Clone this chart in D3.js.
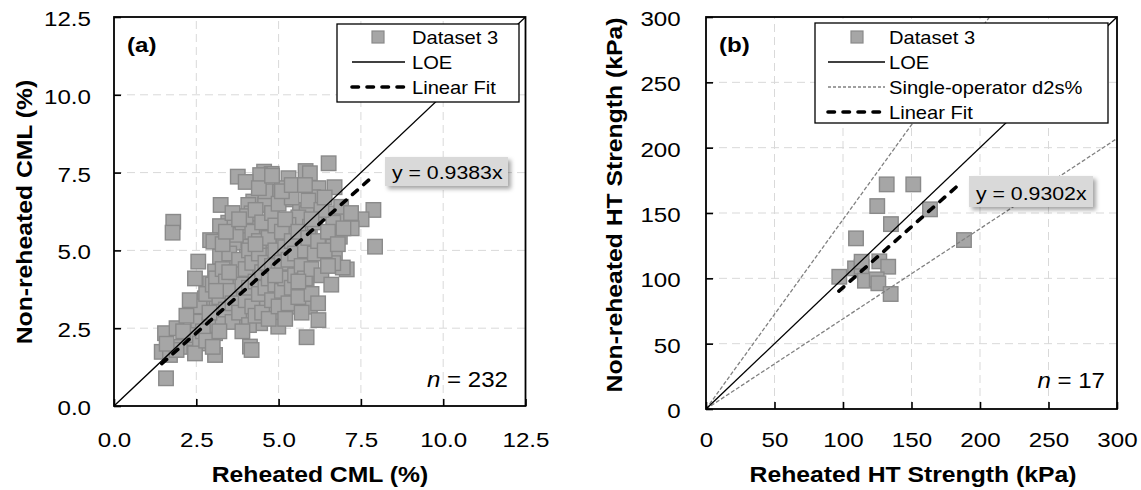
<!DOCTYPE html>
<html><head><meta charset="utf-8">
<script src="https://cdn.jsdelivr.net/npm/d3@7"></script>
<style>body{margin:0;background:#fff} svg{display:block;font-family:"Liberation Sans",Arial,sans-serif}</style>
</head><body><svg id="c" width="1141" height="490"></svg>
<script>
// ---------- Panel (a) data: CML (%) ----------
const cmlReheated = [
6.52,3.76,4.56,4.79,4.44,5.30,5.82,5.95,6.70,4.91,5.09,6.21,6.05,5.22,4.23,4.59,4.08,3.24,7.88,5.65,
5.85,4.18,4.79,5.60,6.66,7.07,7.52,1.80,1.78,3.47,3.22,4.08,4.64,5.30,5.95,6.66,7.22,2.92,3.02,3.68,
4.08,4.13,4.65,4.70,5.15,5.35,5.74,6.19,6.66,6.86,7.93,2.56,3.22,4.04,4.64,5.09,5.95,6.66,6.97,6.71,
7.07,6.95,6.66,2.46,3.07,3.62,4.03,4.74,5.25,2.92,3.12,3.73,4.18,4.54,4.84,5.30,5.30,5.65,5.85,2.76,
3.12,3.47,3.83,3.93,4.33,4.64,4.99,5.45,5.55,5.95,6.21,2.41,2.56,3.07,3.07,3.52,4.03,4.44,4.94,4.99,
5.85,1.55,1.90,2.21,2.41,2.61,1.45,1.70,2.46,3.07,4.13,4.18,1.58,
2.6,2.8,2.9,3.0,3.1,3.2,3.3,3.3,3.4,3.4,
3.5,3.5,3.6,3.6,3.7,3.7,3.8,3.8,3.9,3.9,
4.0,4.0,4.0,4.1,4.1,4.1,4.2,4.2,4.2,4.3,
4.3,4.3,4.4,4.4,4.4,4.5,4.5,4.5,4.6,4.6,
4.6,4.7,4.7,4.7,4.8,4.8,4.8,4.9,4.9,4.9,
5.0,5.0,5.0,5.1,5.1,5.1,5.2,5.2,5.2,5.2,
5.3,5.3,5.4,5.4,5.4,5.5,5.5,5.6,5.6,5.7,
5.7,5.8,5.8,5.9,5.9,6.0,6.0,6.1,6.1,6.2,
6.2,6.3,6.3,6.4,6.5,6.5,6.6,6.8,6.9,7.2,
2.2,2.3,2.0,2.1,1.9,1.6,2.7,2.8,2.9,3.0,
3.2,3.3,3.4,3.6,3.8,3.9,4.0,4.4,4.8,5.1,
5.4,5.8,6.0,6.4,3.5,4.3,4.9,5.6,3.1
];
const cmlNonReheated = [
7.80,7.37,7.53,7.46,7.42,7.32,7.55,7.48,7.03,6.89,7.00,7.00,6.71,6.64,6.57,6.46,6.46,6.46,6.30,6.30,
6.19,6.19,6.03,6.06,6.19,6.03,6.00,5.92,5.57,5.89,5.78,5.71,5.71,5.82,5.76,5.89,5.71,5.33,5.28,5.25,
5.33,5.12,5.55,5.17,5.33,5.55,5.23,5.12,5.12,5.44,5.12,4.64,4.80,4.80,4.80,4.80,4.82,4.82,5.71,4.80,
4.39,4.45,4.59,4.10,4.32,4.59,4.69,4.85,4.91,3.94,3.78,3.99,4.21,4.05,4.16,4.32,3.94,4.37,3.94,3.46,
3.30,3.35,3.62,3.08,3.51,3.25,3.51,3.51,3.19,3.19,2.76,2.98,2.71,2.92,2.34,2.92,2.82,2.66,2.98,2.55,
2.21,2.34,2.50,2.18,2.28,2.01,1.74,1.64,1.69,1.64,1.91,1.80,0.89,
3.2,3.6,2.6,3.9,4.1,3.5,2.8,4.4,3.1,4.0,
3.7,4.9,2.7,3.3,4.3,5.5,3.0,4.7,3.9,5.9,
3.4,4.4,6.1,2.6,3.8,5.0,4.6,3.2,5.6,2.9,
4.0,6.3,3.6,4.9,5.3,3.0,4.3,5.9,3.8,4.6,
6.9,2.8,4.1,5.4,3.4,4.5,6.2,3.9,5.0,5.8,
3.2,4.3,6.5,3.7,4.6,5.6,2.8,4.1,5.1,6.0,
3.3,4.7,3.8,5.3,6.7,4.2,4.9,3.5,5.6,4.5,
3.0,5.0,4.1,5.4,6.6,3.6,4.4,5.9,4.9,3.3,
5.3,4.2,6.3,5.0,4.5,5.6,3.9,5.2,6.4,6.2,
2.9,3.4,1.9,2.4,1.8,2.0,2.4,2.1,3.0,1.9,
2.4,5.2,5.6,6.2,6.0,2.4,7.2,7.0,7.4,6.9,
7.1,7.1,6.0,6.7,4.3,5.2,4.2,4.0,3.7
];
const cmlTicks = [0, 2.5, 5, 7.5, 10, 12.5];
const cmlFitSlope = 0.9383;
const cmlFitRange = [1.45, 7.9];
const cmlN = 232;

// ---------- Panel (b) data: HT strength (kPa) ----------
const htReheated    = [131.9,151.3,125.0,163.5,135.0,109.5,188.3,97.3,108.8,113.6,126.5,133.0,116.0,124.6,125.8,134.8,113.6];
const htNonReheated = [171.9,171.9,155.3,152.8,141.5,130.6,129.3,101.2,107.6,108.9,113.0,108.9,98.2,99.2,96.2,88.0,112.7];
const htTicks = [0, 50, 100, 150, 200, 250, 300];
const htFitSlope = 0.9302;
const htFitRange = [97, 186];
const d2sSlopes = [1.45, 0.69];
const htN = 17;

const svg = d3.select('#c');
const defs = svg.append('defs');
const f = defs.append('filter').attr('id','sh').attr('x','-20%').attr('y','-30%').attr('width','150%').attr('height','180%');
f.append('feDropShadow').attr('dx',3).attr('dy',3).attr('stdDeviation',2).attr('flood-color','#000').attr('flood-opacity',0.35);

function txt(g, x, y, s, o = {}) {
  const t = g.append('text')
    .attr('transform', `translate(${x},${y}) rotate(${o.rotate||0}) scale(${o.sx||1.15},1)`)
    .attr('text-anchor', o.anchor || 'start')
    .style('font-size', (o.size || 21) + 'px')
    .style('font-weight', o.weight || 'normal')
    .attr('fill', '#000');
  if (s !== null) t.text(s);
  return t;
}

const MK = '#a6a6a6', MKS = '#8a8a8a';

function panel(cfg) {
  const g = svg.append('g');
  const x = d3.scaleLinear().domain([0, cfg.max]).range(cfg.xr);
  const y = d3.scaleLinear().domain([0, cfg.max]).range(cfg.yr);
  const clipId = 'clip' + cfg.id;
  defs.append('clipPath').attr('id', clipId).append('rect')
    .attr('x', cfg.xr[0]).attr('y', cfg.yr[1]).attr('width', cfg.xr[1]-cfg.xr[0]).attr('height', cfg.yr[0]-cfg.yr[1]);

  // grid
  const grid = g.append('g').attr('stroke', '#d9d9d9').attr('stroke-width', 1).attr('stroke-dasharray', '8,5');
  cfg.ticks.slice(1, -1).forEach(t => {
    grid.append('line').attr('x1', x(t)).attr('x2', x(t)).attr('y1', cfg.yr[0]).attr('y2', cfg.yr[1]);
    grid.append('line').attr('y1', y(t)).attr('y2', y(t)).attr('x1', cfg.xr[0]).attr('x2', cfg.xr[1]);
  });

  // points
  const pts = g.append('g');
  cfg.xs.forEach((v, i) => {
    pts.append('rect').attr('x', x(v) - 7.25).attr('y', y(cfg.ys[i]) - 7.25)
      .attr('width', 14.5).attr('height', 14.5).attr('fill', MK).attr('stroke', MKS).attr('stroke-width', 1.4);
  });

  const lines = g.append('g').attr('clip-path', `url(#${clipId})`);
  // d2s lines
  (cfg.d2s || []).forEach(s => {
    const xe = Math.min(cfg.max, cfg.max / s);
    lines.append('line').attr('x1', x(0)).attr('y1', y(0)).attr('x2', x(xe)).attr('y2', y(xe * s))
      .attr('stroke', '#808080').attr('stroke-width', 1.3).attr('stroke-dasharray', '4,2');
  });
  // LOE
  lines.append('line').attr('x1', x(0)).attr('y1', y(0)).attr('x2', x(cfg.max)).attr('y2', y(cfg.max))
    .attr('stroke', '#000').attr('stroke-width', 1.3);
  // fit
  lines.append('line').attr('x1', x(cfg.fitRange[0])).attr('y1', y(cfg.fitRange[0] * cfg.slope))
    .attr('x2', x(cfg.fitRange[1])).attr('y2', y(cfg.fitRange[1] * cfg.slope))
    .attr('stroke', '#000').attr('stroke-width', 3.6).attr('stroke-dasharray', '6.5,8.5').attr('stroke-linecap', 'round');

  // axes
  const fmt = cfg.fmt;
  const ax = g.append('g').attr('transform', `translate(0,${cfg.yr[0]})`)
    .call(d3.axisBottom(x).tickValues(cfg.ticks).tickFormat(fmt).tickSizeInner(-7).tickSizeOuter(0).tickPadding(cfg.xpad));
  const ay = g.append('g').attr('transform', `translate(${cfg.xr[0]},0)`)
    .call(d3.axisLeft(y).tickValues(cfg.ticks).tickFormat(fmt).tickSizeInner(-7).tickSizeOuter(0).tickPadding(cfg.ypad));
  [ax, ay].forEach(a => {
    a.select('.domain').remove();
    a.selectAll('line').attr('stroke', '#000').attr('stroke-width', 1.6);
    a.selectAll('text').style('font-size', '21px').style('font-family', '"Liberation Sans",Arial,sans-serif')
      .attr('fill', '#000').attr('transform', 'scale(1.15,1)');
  });
  ay.selectAll('text').attr('dy', '0.4em');

  // frame
  g.append('rect').attr('x', cfg.xr[0]).attr('y', cfg.yr[1]).attr('width', cfg.xr[1]-cfg.xr[0]).attr('height', cfg.yr[0]-cfg.yr[1])
    .attr('fill', 'none').attr('stroke', '#000').attr('stroke-width', 1.8);

  // panel letter
  txt(g, cfg.xr[0] + 13, 52, cfg.letter, {size: 21, weight: 'bold'});

  // axis titles
  txt(g, cfg.xTitlePos[0], cfg.xTitlePos[1], cfg.xTitle, {size: 21.5, weight: 'bold', anchor: 'middle'});
  txt(g, cfg.yTitlePos[0], cfg.yTitlePos[1], cfg.yTitle, {size: 21.5, weight: 'bold', anchor: 'middle', rotate: -90});

  // label box
  const lb = cfg.lbox;
  g.append('rect').attr('x', lb[0]).attr('y', lb[1]).attr('width', lb[2]).attr('height', lb[3])
    .attr('fill', '#d9d9d9').attr('filter', 'url(#sh)');
  txt(g, lb[0] + 7, lb[1] + lb[3] - 7, `y = ${cfg.slope}x`, {size: 19, sx: 1.12});

  // n label
  const nt = txt(g, cfg.nPos[0], cfg.nPos[1], null, {size: 21.5, anchor: 'end', sx: 1.12});
  nt.append('tspan').style('font-style', 'italic').text('n');
  nt.append('tspan').text(' = ' + cfg.n);

  // legend
  const L = cfg.legend;
  const lg = g.append('g');
  lg.append('rect').attr('x', L.x0).attr('y', L.y0).attr('width', L.x1 - L.x0).attr('height', L.y1 - L.y0)
    .attr('fill', '#fff').attr('stroke', '#000').attr('stroke-width', 1.3);
  L.items.forEach((it, i) => {
    const cy = L.rowY[i];
    if (it.type === 'marker') {
      lg.append('rect').attr('x', L.mx - 6).attr('y', cy - 6).attr('width', 12).attr('height', 12)
        .attr('fill', MK).attr('stroke', MKS).attr('stroke-width', 1.2);
    } else {
      const ln = lg.append('line').attr('x1', L.lx[0]).attr('x2', L.lx[1]).attr('y1', cy).attr('y2', cy);
      if (it.type === 'loe') ln.attr('stroke', '#000').attr('stroke-width', 1.3);
      if (it.type === 'd2s') ln.attr('stroke', '#808080').attr('stroke-width', 1.3).attr('stroke-dasharray', '3,2');
      if (it.type === 'fit') ln.attr('stroke', '#000').attr('stroke-width', 3.6).attr('stroke-dasharray', '6.5,8.5').attr('stroke-linecap', 'round');
    }
    txt(lg, L.tx, cy + 6.5, it.label, {size: 17.5});
  });
}

panel({
  id: 'a', max: 12.5, xr: [114, 525.5], yr: [406, 17], ticks: cmlTicks, fmt: d3.format('.1f'),
  xpad: 26, ypad: 20,
  xs: cmlReheated, ys: cmlNonReheated, slope: cmlFitSlope, fitRange: cmlFitRange,
  letter: '(a)', xTitle: 'Reheated CML (%)', yTitle: 'Non-reheated CML (%)',
  xTitlePos: [320, 482], yTitlePos: [32, 212],
  lbox: [385, 157, 123, 29], nPos: [508, 387], n: cmlN,
  legend: { x0: 337, y0: 24, x1: 519, y1: 102, rowY: [37, 62, 87], mx: 378, lx: [352, 405], tx: 412,
    items: [{type: 'marker', label: 'Dataset 3'}, {type: 'loe', label: 'LOE'}, {type: 'fit', label: 'Linear Fit'}] }
});

panel({
  id: 'b', max: 300, xr: [706, 1117], yr: [409, 17], ticks: htTicks, fmt: d3.format('d'),
  xpad: 23, ypad: 22,
  xs: htReheated, ys: htNonReheated, slope: htFitSlope, fitRange: htFitRange, d2s: d2sSlopes,
  letter: '(b)', xTitle: 'Reheated HT Strength (kPa)', yTitle: 'Non-reheated HT Strength (kPa)',
  xTitlePos: [913, 482], yTitlePos: [622, 205],
  lbox: [969, 176, 124, 31], nPos: [1105, 388], n: htN,
  legend: { x0: 815, y0: 23, x1: 1108, y1: 123, rowY: [37, 62, 87, 112], mx: 857, lx: [828, 885], tx: 889,
    items: [{type: 'marker', label: 'Dataset 3'}, {type: 'loe', label: 'LOE'}, {type: 'd2s', label: 'Single-operator d2s%'}, {type: 'fit', label: 'Linear Fit'}] }
});
</script></body></html>
